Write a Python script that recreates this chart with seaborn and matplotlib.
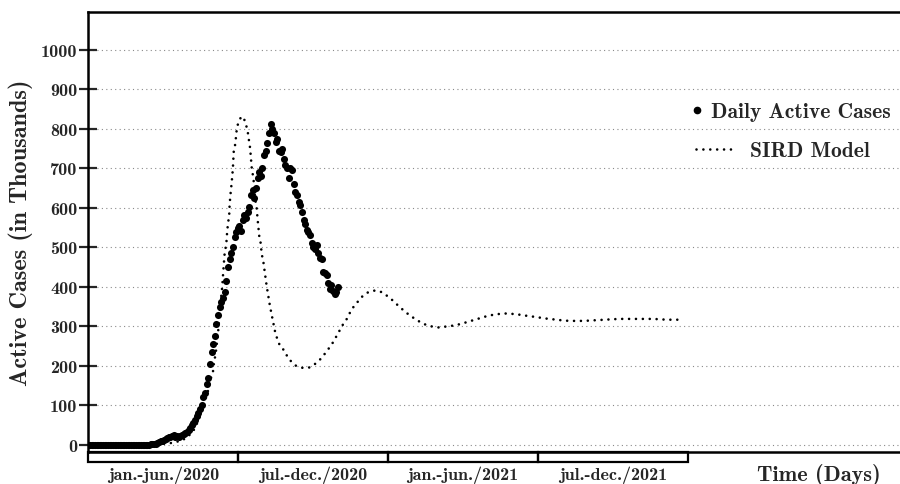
import matplotlib
matplotlib.use('Agg')
import matplotlib.pyplot as plt
import matplotlib.transforms as mtransforms
from matplotlib.lines import Line2D
from matplotlib.patches import Rectangle
import seaborn as sns
import pandas as pd

# daily active cases (thousands), one value every 2 days from day 0
case_days = list(range(0, 306, 2))
active_cases = [
    0, 0, 0, 0, 0, 0, 0, 0, 0, 0, 0, 0, 0, 0, 0, 0, 0, 0, 0, 0,
    0, 0, 0, 0, 0, 0, 0, 0, 0, 0, 0, 0, 0, 0, 0, 0, 0, 0, 1, 1,
    2, 3, 5, 7, 9, 11, 13, 15, 17, 19, 21, 23, 24, 20, 22, 19, 22, 24, 27, 29,
    33, 37, 44, 50, 56, 62, 72, 82, 92, 102, 122, 131, 155, 170, 205, 235, 255, 277, 305, 328,
    350, 362, 372, 387, 415, 450, 470, 485, 500, 527, 540, 550, 555, 542, 570, 581, 575, 590, 602, 632,
    645, 624, 650, 675, 690, 680, 700, 733, 745, 765, 790, 813, 800, 790, 766, 775, 745, 741, 750, 724,
    708, 700, 675, 700, 696, 660, 640, 633, 615, 607, 590, 569, 560, 545, 540, 531, 510, 502, 495, 505,
    485, 472, 470, 438, 435, 430, 410, 396, 404, 390, 383, 387, 400,
]

# SIRD model curve (thousands)
sird_days = [
    0, 51, 81, 99, 112, 120, 128, 133, 137, 141, 144, 147, 149, 152, 153, 155, 158, 160, 163, 164.5,
    166, 168, 169, 170, 171.5, 172, 173, 174, 175, 176, 176.5, 177, 179, 180, 181, 184, 186, 188.5, 191.5, 194,
    195.5, 197, 198, 199, 201, 202, 203, 205, 206, 207, 208, 210, 211, 213, 217, 221, 225, 228, 231.5, 233,
    238, 242, 247, 253, 261, 269, 276, 283, 288, 293, 298, 302, 306, 310, 315, 319, 323, 329, 334, 341,
    349, 357, 364, 371, 377, 383, 390, 397, 404, 412, 420, 428, 436, 444, 453, 461, 469, 477, 485, 494,
    502, 511, 519, 528, 536, 545, 553, 561, 570, 578, 586, 594, 603, 612, 620, 629, 637, 646, 654, 671,
    688, 704, 725,
]
sird_model = [
    0, 0, 1, 4, 10, 18, 36, 57, 83, 104, 125, 146, 167, 188, 209, 230, 285, 340, 400, 445,
    486, 509, 539, 560, 581, 607, 633, 653, 675, 700, 721, 742, 763, 785, 805, 823, 830, 831, 815, 794,
    772, 751, 725, 700, 675, 650, 624, 599, 573, 552, 530, 509, 484, 465, 404, 353, 311, 280, 261, 252,
    240, 225, 211, 200, 195, 196, 205, 218, 231, 245, 260, 275, 290, 305, 320, 337, 350, 365, 377, 387,
    391, 387, 377, 365, 353, 342, 330, 320, 311, 303, 299, 297, 300, 302, 306, 311, 316, 321, 326, 330,
    332, 333, 331, 329, 326, 324, 321, 319, 317, 315, 314, 314, 314, 315, 316, 317, 318, 319, 319, 319,
    319, 317, 317,
]

period_edges = [0, 182.5, 365, 547.5, 730]
period_labels = ['jan.-jun./2020', 'jul.-dec./2020', 'jan.-jun./2021', 'jul.-dec./2021']
yticks = list(range(0, 1001, 100))

cases_df = pd.DataFrame({'day': case_days, 'active': active_cases})
sird_df = pd.DataFrame({'day': sird_days, 'sird': sird_model})

sns.set_style('white')
plt.rcParams['font.family'] = ['cmb10', 'DejaVu Serif']
plt.rcParams['axes.unicode_minus'] = False

fig = plt.figure(figsize=(9, 4.85), dpi=100)
ax = fig.add_axes([0.0981, 0.066, 0.9019, 0.907])

sns.scatterplot(data=cases_df, x='day', y='active', color='black', s=26,
                linewidth=0, ax=ax, legend=False, zorder=3)
sns.lineplot(data=sird_df, x='day', y='sird', color='black', lw=1.9,
             linestyle=(0, (0.01, 2.6)), dash_capstyle='round',
             sort=False, estimator=None, ax=ax, legend=False, zorder=2)

ax.set_xlim(0, 988)
ax.set_ylim(-18, 1096)
ax.set_yticks(yticks)
ax.set_yticklabels([str(v) for v in yticks], fontsize=13)
ax.set_xticks([])
ax.tick_params(axis='y', direction='inout', length=12.5, width=1.6, pad=1.5, left=True)
ax.yaxis.grid(True, color='#8a8a8a', linestyle=(0, (1, 3)), lw=0.8)
ax.xaxis.grid(False)

for side in ['left', 'top', 'bottom']:
    ax.spines[side].set_visible(True)
    ax.spines[side].set_linewidth(1.8)
    ax.spines[side].set_color('black')
ax.spines['right'].set_visible(False)

ax.set_ylabel('Active Cases (in Thousands)', fontsize=17.5, labelpad=6)
ax.set_xlabel('')

# period boxes under the x axis
trans = mtransforms.blended_transform_factory(ax.transData, ax.transAxes)
for i, lab in enumerate(period_labels):
    x0 = period_edges[i]
    x1 = period_edges[i + 1]
    ax.add_patch(Rectangle((x0, -0.023), x1 - x0, 0.023, transform=trans,
                           fill=False, lw=1.6, edgecolor='black', clip_on=False))
    ax.text((x0 + x1) / 2, -0.05, lab, transform=trans, ha='center', va='center',
            fontsize=13)

ax.text(0.9, -0.05, 'Time (Days)', transform=ax.transAxes, ha='center',
        va='center', fontsize=16)

# legend, one entry per box so the texts sit like the original
h1 = Line2D([], [], color='black', marker='o', markersize=4.5, linestyle='none')
h2 = Line2D([], [], color='black', lw=1.9, linestyle=(0, (0.01, 2.6)),
            dash_capstyle='round')
leg1 = ax.legend(handles=[h1], labels=['Daily Active Cases'], loc='center left',
                 bbox_to_anchor=(0.719, 0.773), frameon=False, fontsize=15.5,
                 handlelength=0.5, handletextpad=0.4)
ax.add_artist(leg1)
ax.legend(handles=[h2], labels=['SIRD Model'], loc='center left',
          bbox_to_anchor=(0.725, 0.685), frameon=False, fontsize=15.5,
          handlelength=1.9, handletextpad=0.6)

fig.savefig('out.png', dpi=100)
